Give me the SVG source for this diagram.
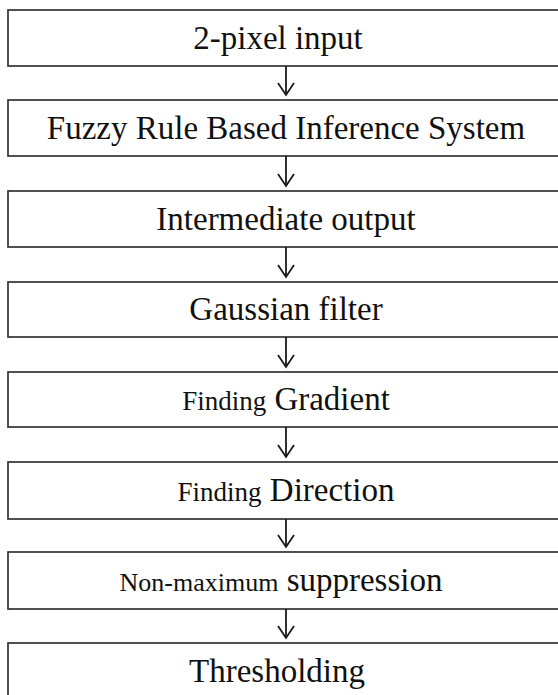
<svg xmlns="http://www.w3.org/2000/svg" width="558" height="695" viewBox="0 0 558 695">
<style>
.box{fill:#fff;stroke:#333;stroke-width:1.7}
.t{font-family:"Liberation Serif","Times New Roman",serif;font-size:33px;fill:#111;text-anchor:middle}
.s{font-size:27px}
.s2{font-size:26px}
.c line,.c polyline{stroke:#1a1a1a;stroke-width:1.8;fill:none}
</style>
<rect width="558" height="695" fill="#fff"/>
<g id="n1"><rect class="box" x="8" y="10" width="560" height="56"/><text class="t" x="278" y="49">2-pixel input</text></g>
<g id="n2"><rect class="box" x="8" y="100" width="560" height="56"/><text class="t" x="286" y="139">Fuzzy Rule Based Inference System</text></g>
<g id="n3"><rect class="box" x="8" y="191" width="560" height="56"/><text class="t" x="286" y="230">Intermediate output</text></g>
<g id="n4"><rect class="box" x="8" y="282" width="560" height="55"/><text class="t" x="286" y="320">Gaussian filter</text></g>
<g id="n5"><rect class="box" x="8" y="372" width="560" height="55"/><text class="t" x="286" y="410"><tspan class="s">Finding</tspan> Gradient</text></g>
<g id="n6"><rect class="box" x="8" y="462" width="560" height="57"/><text class="t" x="286" y="501"><tspan class="s">Finding</tspan> Direction</text></g>
<g id="n7"><rect class="box" x="8" y="552" width="560" height="57"/><text class="t" x="281" y="591"><tspan class="s2">Non-maximum</tspan> suppression</text></g>
<g id="n8"><rect class="box" x="8" y="643" width="560" height="70"/><text class="t" x="277" y="682">Thresholding</text></g>
<g class="c" id="connectors">
<line x1="286" y1="66" x2="286" y2="95"/><polyline points="278,83 286,95 294,83"/>
<line x1="286" y1="156" x2="286" y2="186"/><polyline points="278,174 286,186 294,174"/>
<line x1="286" y1="247" x2="286" y2="277"/><polyline points="278,265 286,277 294,265"/>
<line x1="286" y1="337" x2="286" y2="367"/><polyline points="278,355 286,367 294,355"/>
<line x1="286" y1="427" x2="286" y2="457"/><polyline points="278,445 286,457 294,445"/>
<line x1="286" y1="519" x2="286" y2="547"/><polyline points="278,535 286,547 294,535"/>
<line x1="286" y1="609" x2="286" y2="638"/><polyline points="278,626 286,638 294,626"/>
</g>
</svg>
